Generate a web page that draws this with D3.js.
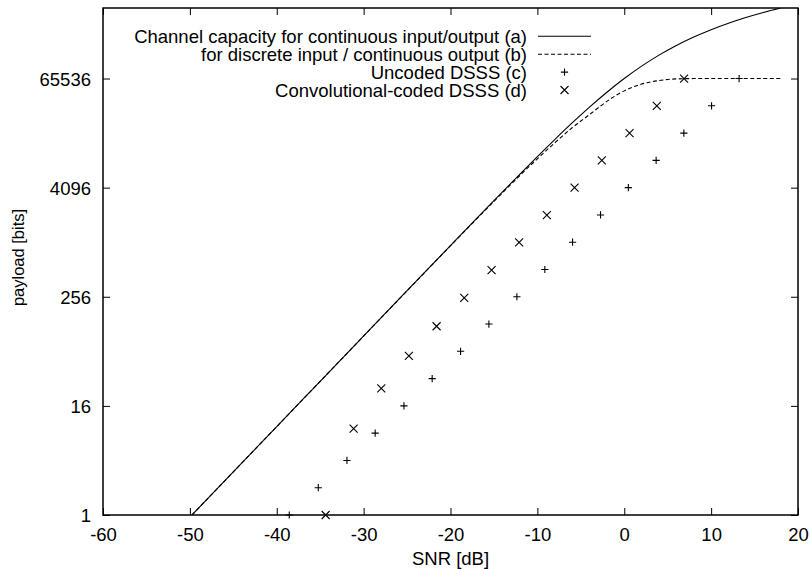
<!DOCTYPE html>
<html>
<head>
<meta charset="utf-8">
<script src="https://cdn.jsdelivr.net/npm/d3@7"></script>
<style>
  html, body { margin: 0; padding: 0; background: #fff; }
  svg { display: block; }
  text { font-family: "Liberation Sans", Arial, Helvetica, sans-serif; fill: #000; }
</style>
</head>
<body>
<svg id="chart" width="810" height="569"></svg>
<script>
// ---- data ----
const xTicks = [-60, -50, -40, -30, -20, -10, 0, 10, 20];
const xTickLabels = ["-60", "-50", "-40", "-30", "-20", "-10", "0", "10", "20"];
const yTicks = [1, 16, 256, 4096, 65536];
const yTickLabels = ["1", "16", "256", "4096", "65536"];

// curve sample points (SNR in dB)
const curveSNR = [-49.76, -45, -40, -35, -30, -25, -20, -15, -12, -10, -8, -6, -4, -2, 0, 2, 4, 6, 8, 10, 12, 14, 16, 18];
// (a) channel capacity, continuous input/output
const capacityA = [1, 2.99, 9.45, 29.9, 94.5, 298.5, 940.8, 2944, 5785, 9011, 13909, 21188, 31684, 46250, 65536, 89790, 118769, 151761, 188076, 226718, 267030, 308477, 350679, 393358];
// (b) discrete input / continuous output
const discreteB = [1, 2.99, 9.45, 29.9, 94.4, 298, 936, 2893, 5600, 8520, 12780, 18743, 26214, 36700, 47900, 56900, 62300, 64900, 65470, 65536, 65536, 65536, 65536, 65536];

// (c) uncoded DSSS
const uncodedSNR = [-38.56, -35.22, -31.92, -28.67, -25.36, -22.11, -18.84, -15.58, -12.36, -9.14, -5.95, -2.73, 0.47, 3.67, 6.86, 10.05, 13.22];
const uncodedPayload = [1, 2, 4, 8, 16, 32, 64, 128, 256, 512, 1024, 2048, 4096, 8192, 16384, 32768, 65536];

// (d) convolutional-coded DSSS
const convSNR = [-34.37, -31.15, -27.97, -24.79, -21.6, -18.42, -15.27, -12.1, -8.91, -5.72, -2.58, 0.61, 3.75, 6.89];
const convPayload = [1, 9, 25, 57, 121, 249, 505, 1017, 2041, 4089, 8185, 16377, 32761, 65529];

const legendLabels = [
  "Channel capacity for continuous input/output (a)",
  "for discrete input / continuous output (b)",
  "Uncoded DSSS (c)",
  "Convolutional-coded DSSS (d)"
];

// ---- layout ----
const L = 103, R = 798, T = 8, B = 515;
const FS = 18.5;

const svg = d3.select("#chart");
const x = d3.scaleLinear().domain([-60, 20]).range([L, R]);
const y = d3.scaleLog().base(2).domain([1, 393358]).range([B, T]);

svg.append("defs").append("clipPath").attr("id", "clip")
  .append("rect").attr("x", L).attr("y", T).attr("width", R - L).attr("height", B - T);

// axes
const gx = svg.append("g").attr("transform", `translate(0,${B})`)
  .call(d3.axisBottom(x).tickValues(xTicks).tickSize(-7).tickSizeOuter(0).tickPadding(13)
    .tickFormat((d, i) => xTickLabels[i]));
const gxTop = svg.append("g").attr("transform", `translate(0,${T})`)
  .call(d3.axisTop(x).tickValues(xTicks).tickSize(-7).tickSizeOuter(0).tickFormat(""));
const gy = svg.append("g").attr("transform", `translate(${L},0)`)
  .call(d3.axisLeft(y).tickValues(yTicks).tickSize(-7).tickSizeOuter(0).tickPadding(12)
    .tickFormat((d, i) => yTickLabels[i]));
const gyR = svg.append("g").attr("transform", `translate(${R},0)`)
  .call(d3.axisRight(y).tickValues(yTicks).tickSize(-7).tickSizeOuter(0).tickFormat(""));

[gx, gxTop, gy, gyR].forEach(g => {
  g.select(".domain").remove();
  g.selectAll(".tick line").attr("stroke", "#000").attr("stroke-width", 1);
  g.selectAll("text").attr("font-size", FS).attr("font-family", "Liberation Sans, Arial, sans-serif").attr("fill", "#000");
});
gx.selectAll("text").attr("dy", "0.71em");
gy.selectAll("text").attr("dy", "0.37em");

// frame
svg.append("rect").attr("x", L).attr("y", T).attr("width", R - L).attr("height", B - T)
  .attr("fill", "none").attr("stroke", "#000").attr("stroke-width", 1.5);

// axis titles
svg.append("text").attr("x", (L + R) / 2).attr("y", 565).attr("text-anchor", "middle")
  .attr("font-size", FS).text("SNR [dB]");
svg.append("text").attr("transform", `translate(24,${(T + B) / 2 - 4}) rotate(-90)`)
  .attr("text-anchor", "middle").attr("font-size", 16.5).text("payload [bits]");

// curves
const line = d3.line().x(d => x(d[0])).y(d => y(d[1])).curve(d3.curveMonotoneX);
const plot = svg.append("g").attr("clip-path", "url(#clip)");
plot.append("path").datum(curveSNR.map((s, i) => [s, capacityA[i]]))
  .attr("d", line).attr("fill", "none").attr("stroke", "#000").attr("stroke-width", 1.1);
plot.append("path").datum(curveSNR.map((s, i) => [s, discreteB[i]]))
  .attr("d", line).attr("fill", "none").attr("stroke", "#000").attr("stroke-width", 1.1)
  .attr("stroke-dasharray", "4,2.5");

// markers
const plusPath = "M-3.6,0H3.6M0,-3.6V3.6";
const crossPath = "M-4,-4L4,4M-4,4L4,-4";
svg.append("g").selectAll("path").data(uncodedSNR.map((s, i) => [s, uncodedPayload[i]]))
  .join("path").attr("d", plusPath)
  .attr("transform", d => `translate(${x(d[0])},${y(d[1])})`)
  .attr("stroke", "#000").attr("stroke-width", 1.1).attr("fill", "none");
svg.append("g").selectAll("path").data(convSNR.map((s, i) => [s, convPayload[i]]))
  .join("path").attr("d", crossPath)
  .attr("transform", d => `translate(${x(d[0])},${y(d[1])})`)
  .attr("stroke", "#000").attr("stroke-width", 1.1).attr("fill", "none");

// legend
const legX = 527, legY0 = 36.3, legDy = 17.9;
const sx0 = 538, sx1 = 591, sxm = 564.5;
const leg = svg.append("g");
legendLabels.forEach((lab, i) => {
  const yy = legY0 + i * legDy;
  leg.append("text").attr("x", legX).attr("y", yy).attr("dy", "0.36em")
    .attr("text-anchor", "end").attr("font-size", FS).text(lab);
  if (i === 0) {
    leg.append("line").attr("x1", sx0).attr("x2", sx1).attr("y1", yy).attr("y2", yy)
      .attr("stroke", "#000").attr("stroke-width", 1.1);
  } else if (i === 1) {
    leg.append("line").attr("x1", sx0).attr("x2", sx1).attr("y1", yy).attr("y2", yy)
      .attr("stroke", "#000").attr("stroke-width", 1.1).attr("stroke-dasharray", "4,2.5");
  } else {
    leg.append("path").attr("d", i === 2 ? plusPath : crossPath)
      .attr("transform", `translate(${sxm},${yy})`)
      .attr("stroke", "#000").attr("stroke-width", 1.1).attr("fill", "none");
  }
});
</script>
</body>
</html>
